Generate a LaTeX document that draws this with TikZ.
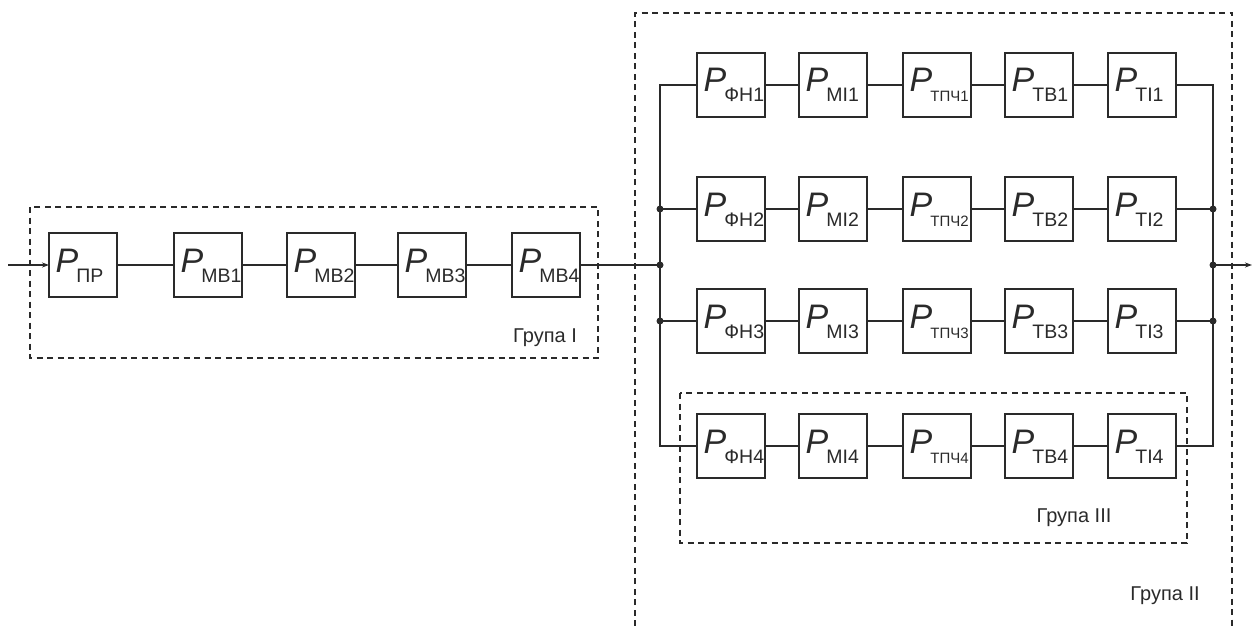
\documentclass[tikz,border=0pt]{standalone}
\usepackage{fontspec}
\setmainfont{Liberation Sans}
\usetikzlibrary{calc,arrows.meta}
\definecolor{ink}{HTML}{2A2A2A}
\newcommand\blk[5]{%
  \node[blkbox, anchor=west] (#1) at (#2,#3) {};
  \node[blklbl] (#1t) at ($(#1.west)+(6.5,7)$) {{\fontsize{34}{34}\selectfont\itshape P}\kern-2pt\raisebox{-10pt}{\fontsize{#5}{#5}\selectfont #4}};
}
\begin{document}
\begin{tikzpicture}[x=1pt,y=-1pt,
  blkbox/.style={draw=ink, line width=1.1pt, minimum width=68pt, minimum height=64pt, inner sep=0pt, outer sep=0pt},
  blklbl/.style={anchor=base west, inner sep=0pt, text=ink},
  wire/.style={draw=ink, line width=1.1pt},
  grp/.style={draw=ink, line width=1.1pt, dash pattern=on 6pt off 4.5pt},
  grplbl/.style={text=ink, font=\fontsize{20}{20}\selectfont, inner sep=0pt, anchor=base},
  dot/.style={fill=ink}]
\useasboundingbox (0,0) rectangle (1253,626);
% groups
\draw[grp] (30,207) rectangle (598,358);
\node[grplbl] (g1) at (545,342) {Група I};
\draw[grp] (635,626) -- (635,13) -- (1232,13) -- (1232,626);
\node[grplbl] (g2) at (1165,600) {Група II};
\draw[grp] (680,393) rectangle (1187,543);
\node[grplbl] (g3) at (1074,522) {Група III};
% left chain
\blk{pr}{49}{265}{ПР}{19.5}
\blk{mb1}{174}{265}{МВ1}{19.5}
\blk{mb2}{287}{265}{МВ2}{19.5}
\blk{mb3}{398}{265}{МВ3}{19.5}
\blk{mb4}{512}{265}{МВ4}{19.5}
% rows
\blk{fh1}{697}{85}{ФН1}{19.5}
\blk{mi1}{799}{85}{МІ1}{19.5}
\blk{tp1}{903}{85}{ТПЧ1}{15}
\blk{tv1}{1005}{85}{ТВ1}{19.5}
\blk{ti1}{1108}{85}{ТІ1}{19.5}
\blk{fh2}{697}{209}{ФН2}{19.5}
\blk{mi2}{799}{209}{МІ2}{19.5}
\blk{tp2}{903}{209}{ТПЧ2}{15}
\blk{tv2}{1005}{209}{ТВ2}{19.5}
\blk{ti2}{1108}{209}{ТІ2}{19.5}
\blk{fh3}{697}{321}{ФН3}{19.5}
\blk{mi3}{799}{321}{МІ3}{19.5}
\blk{tp3}{903}{321}{ТПЧ3}{15}
\blk{tv3}{1005}{321}{ТВ3}{19.5}
\blk{ti3}{1108}{321}{ТІ3}{19.5}
\blk{fh4}{697}{446}{ФН4}{19.5}
\blk{mi4}{799}{446}{МІ4}{19.5}
\blk{tp4}{903}{446}{ТПЧ4}{15}
\blk{tv4}{1005}{446}{ТВ4}{19.5}
\blk{ti4}{1108}{446}{ТІ4}{19.5}
% connectors
\coordinate (in) at (8,265);
\draw[wire,-{Stealth[length=7pt,width=5pt]}] (in) -- (pr.west);
\draw[wire] (pr) -- (mb1); \draw[wire] (mb1) -- (mb2);
\draw[wire] (mb2) -- (mb3); \draw[wire] (mb3) -- (mb4);
\foreach \r in {1,2,3,4}{
  \draw[wire] (fh\r) -- (mi\r);
  \draw[wire] (mi\r) -- (tp\r);
  \draw[wire] (tp\r) -- (tv\r);
  \draw[wire] (tv\r) -- (ti\r);
}
\coordinate (jm) at (660,265);
\coordinate (lt) at (660,85); \coordinate (lb) at (660,446);
\coordinate (l2) at (660,209); \coordinate (l3) at (660,321);
\draw[wire] (mb4.east) -- (jm);
\draw[wire] (fh1.west) -- (lt) -- (lb) -- (fh4.west);
\draw[wire] (l2) -- (fh2.west);
\draw[wire] (l3) -- (fh3.west);
\coordinate (ro) at (1213,265);
\coordinate (rt) at (1213,85); \coordinate (rb) at (1213,446);
\coordinate (r2) at (1213,209); \coordinate (r3) at (1213,321);
\coordinate (out) at (1252,265);
\draw[wire] (ti1.east) -- (rt) -- (rb) -- (ti4.east);
\draw[wire] (ti2.east) -- (r2);
\draw[wire] (ti3.east) -- (r3);
\draw[wire,-{Stealth[length=7pt,width=5pt]}] (ro) -- (out);
\foreach \c in {jm,l2,l3,ro,r2,r3}{ \fill[dot] (\c) circle (3.5pt); }
\end{tikzpicture}
\end{document}
